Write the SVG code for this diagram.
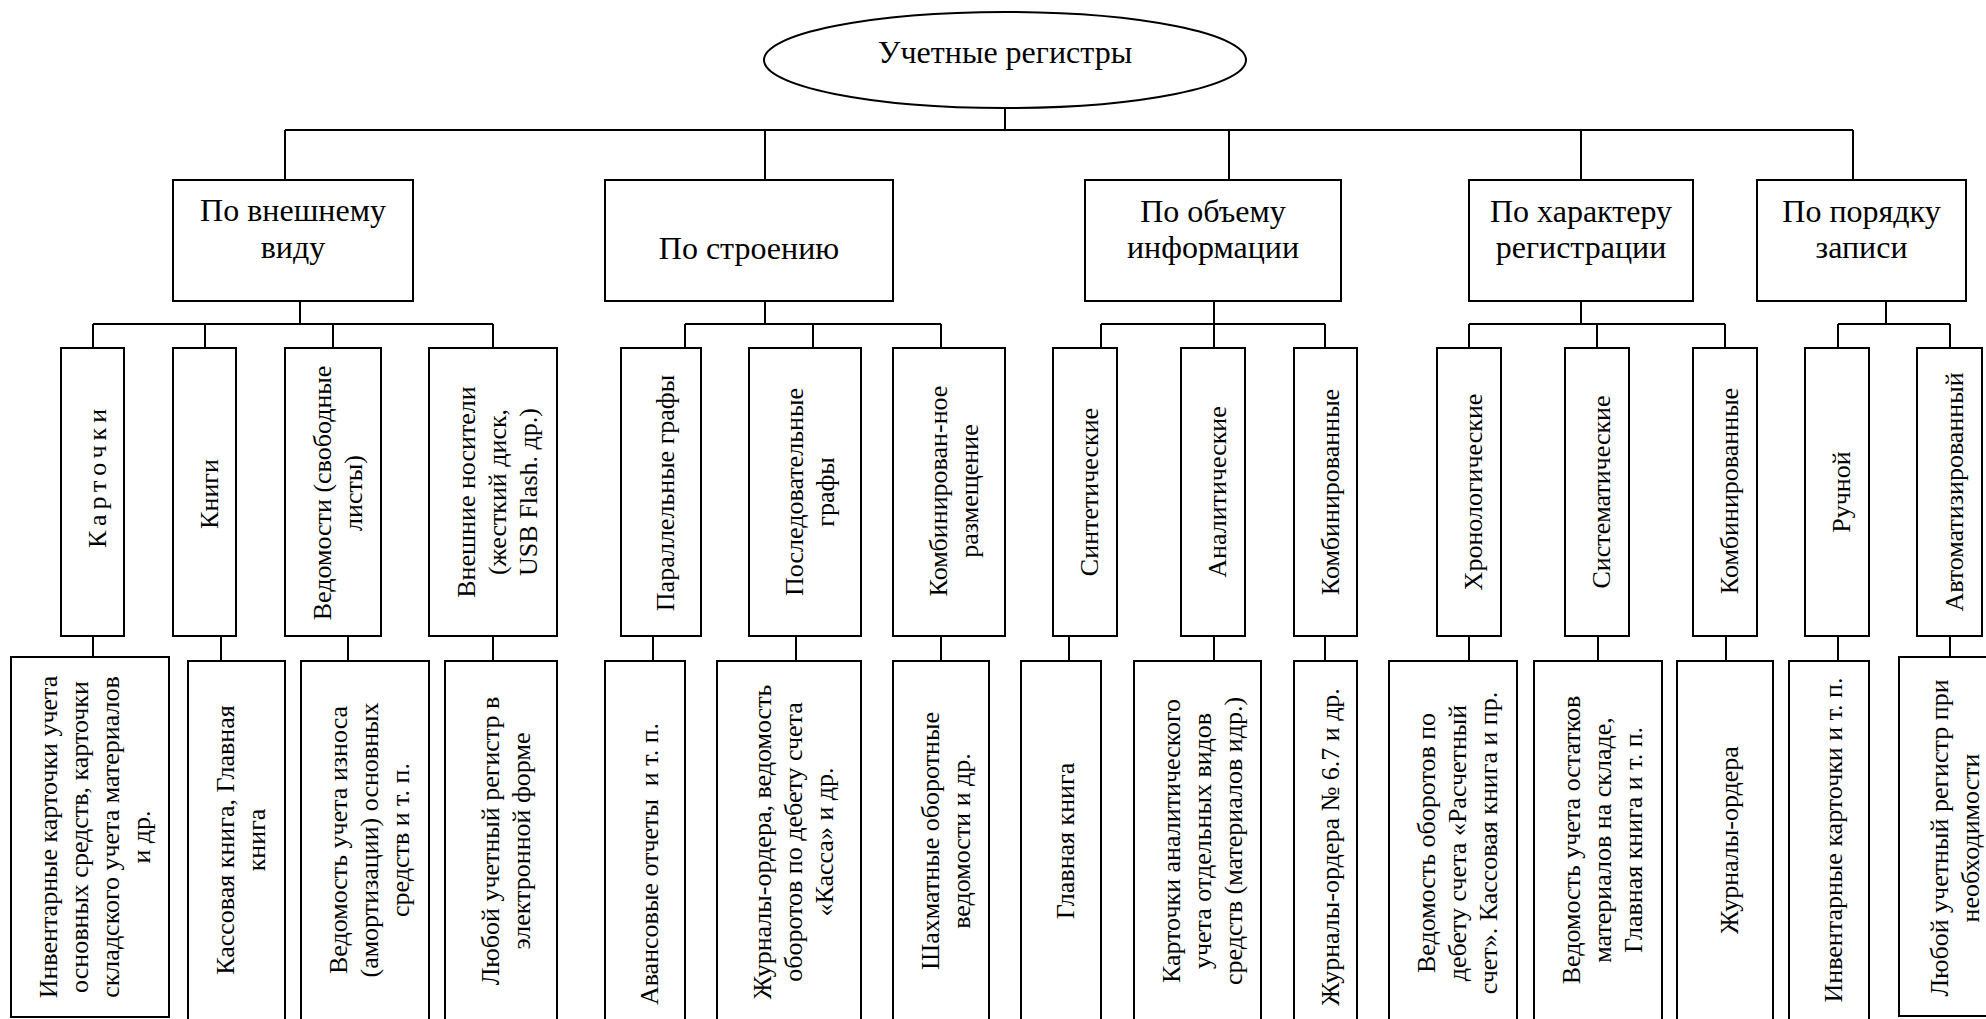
<svg xmlns="http://www.w3.org/2000/svg" width="1986" height="1019" viewBox="0 0 1986 1019">
<style>
.bg{fill:#fff}
.nd{fill:#fff;stroke:#000;stroke-width:2}
.cn{fill:none;stroke:#000;stroke-width:2}
.t1{font-family:"Liberation Serif","Times New Roman",serif;font-size:32px;fill:#000;text-anchor:middle}
.t2{font-family:"Liberation Serif","Times New Roman",serif;font-size:26px;fill:#000;text-anchor:middle}
.sp{letter-spacing:5px}
</style>
<rect class="bg" x="0" y="0" width="1986" height="1019"/>
<g id="connectors">
<path class="cn" d="M1005 108V130M285 130H1853M285 130V180M765 130V180M1229 130V180M1581 130V180M1853 130V180"/>
<path class="cn" d="M300 301V324M93 324H493M93 324V348M205 324V348M333 324V348M493 324V348"/>
<path class="cn" d="M765 301V324M685 324H941M685 324V348M813 324V348M941 324V348"/>
<path class="cn" d="M1214 301V324M1101 324H1325M1101 324V348M1214 324V348M1325 324V348"/>
<path class="cn" d="M1581 301V324M1469 324H1725M1469 324V348M1597 324V348M1725 324V348"/>
<path class="cn" d="M1886 301V324M1838 324H1950M1838 324V348M1950 324V348"/>
<path class="cn" d="M93 636V657M221 636V661M348 636V661M493 636V661M653 636V661M796 636V661M941 636V661M1069 636V661M1214 636V661M1325 636V661M1469 636V661M1598 636V661M1726 636V661M1838 636V661M1950 636V657"/>
</g>
<g id="root">
<ellipse class="nd" cx="1005" cy="60" rx="241" ry="48"/>
<text class="t1" x="1005" y="63">Учетные регистры</text>
</g>
<g id="l1-vid"><rect class="nd" x="173" y="180" width="240" height="121"/><text class="t1" x="293" y="221">По внешнему<tspan x="293" y="258">виду</tspan></text></g>
<g id="l1-stroenie"><rect class="nd" x="605" y="180" width="288" height="121"/><text class="t1" x="749" y="259">По строению</text></g>
<g id="l1-obem"><rect class="nd" x="1085" y="180" width="256" height="121"/><text class="t1" x="1213" y="222">По объему<tspan x="1213" y="258">информации</tspan></text></g>
<g id="l1-harakter"><rect class="nd" x="1469" y="180" width="224" height="121"/><text class="t1" x="1581" y="222">По характеру<tspan x="1581" y="258">регистрации</tspan></text></g>
<g id="l1-poryadok"><rect class="nd" x="1757" y="180" width="209" height="121"/><text class="t1" x="1861.5" y="222">По порядку<tspan x="1861.5" y="258">записи</tspan></text></g>

<g id="l2-kartochki"><rect class="nd" x="61" y="348" width="63" height="288"/><text class="t2 sp" transform="translate(105.5 476) rotate(-90)">Карточки</text></g>
<g id="l2-knigi"><rect class="nd" x="173" y="348" width="63" height="288"/><text class="t2" transform="translate(217.5 494) rotate(-90)">Книги</text></g>
<g id="l2-vedomosti"><rect class="nd" x="285" y="348" width="96" height="288"/><text class="t2" transform="translate(330.5 493) rotate(-90)"><tspan x="0" y="0">Ведомости (свободные</tspan><tspan x="0" y="31">листы)</tspan></text></g>
<g id="l2-nositeli"><rect class="nd" x="429" y="348" width="128" height="288"/><text class="t2" transform="translate(475 492) rotate(-90)"><tspan x="0" y="0">Внешние носители</tspan><tspan x="0" y="31">(жесткий диск,</tspan><tspan x="0" y="62">USB Flash. др.)</tspan></text></g>
<g id="l2-parallel"><rect class="nd" x="621" y="348" width="80" height="288"/><text class="t2" transform="translate(674 493) rotate(-90)">Параллельные графы</text></g>
<g id="l2-posled"><rect class="nd" x="749" y="348" width="112" height="288"/><text class="t2" transform="translate(802.5 492) rotate(-90)"><tspan x="0" y="0">Последовательные</tspan><tspan x="0" y="31">графы</tspan></text></g>
<g id="l2-kombraz"><rect class="nd" x="893" y="348" width="112" height="288"/><text class="t2" transform="translate(946.5 491) rotate(-90)"><tspan x="0" y="0">Комбинирован-ное</tspan><tspan x="0" y="31">размещение</tspan></text></g>
<g id="l2-sint"><rect class="nd" x="1053" y="348" width="64" height="288"/><text class="t2" transform="translate(1098 492) rotate(-90)">Синтетические</text></g>
<g id="l2-anal"><rect class="nd" x="1181" y="348" width="64" height="288"/><text class="t2" transform="translate(1226 492) rotate(-90)">Аналитические</text></g>
<g id="l2-komb1"><rect class="nd" x="1294" y="348" width="63" height="288"/><text class="t2" transform="translate(1338.5 492) rotate(-90)">Комбинированные</text></g>
<g id="l2-hron"><rect class="nd" x="1437" y="348" width="64" height="288"/><text class="t2" transform="translate(1482 492) rotate(-90)">Хронологические</text></g>
<g id="l2-sist"><rect class="nd" x="1565" y="348" width="64" height="288"/><text class="t2" transform="translate(1610 492) rotate(-90)">Систематические</text></g>
<g id="l2-komb2"><rect class="nd" x="1693" y="348" width="64" height="288"/><text class="t2" transform="translate(1738 491) rotate(-90)">Комбинированные</text></g>
<g id="l2-ruchnoy"><rect class="nd" x="1805" y="348" width="64" height="288"/><text class="t2" transform="translate(1850 492) rotate(-90)">Ручной</text></g>
<g id="l2-avtomat"><rect class="nd" x="1917" y="348" width="65" height="288"/><text class="t2" transform="translate(1962.5 492) rotate(-90)">Автоматизированный</text></g>

<g id="l3-a1"><rect class="nd" x="11" y="657" width="158" height="360"/><text class="t2" transform="translate(56.5 837) rotate(-90)"><tspan x="0" y="0">Инвентарные карточки учета</tspan><tspan x="0" y="31">основных средств, карточки</tspan><tspan x="0" y="62">складского учета материалов</tspan><tspan x="0" y="93">и др.</tspan></text></g>
<g id="l3-a2"><rect class="nd" x="188" y="661" width="97" height="380"/><text class="t2" transform="translate(234 840) rotate(-90)"><tspan x="0" y="0">Кассовая книга, Главная</tspan><tspan x="0" y="31">книга</tspan></text></g>
<g id="l3-a3"><rect class="nd" x="301" y="661" width="128" height="380"/><text class="t2" transform="translate(347 840) rotate(-90)"><tspan x="0" y="0">Ведомость учета износа</tspan><tspan x="0" y="31">(амортизации) основных</tspan><tspan x="0" y="62">средств и т. п.</tspan></text></g>
<g id="l3-a4"><rect class="nd" x="445" y="661" width="112" height="380"/><text class="t2" transform="translate(498.5 841) rotate(-90)"><tspan x="0" y="0">Любой учетный регистр в</tspan><tspan x="0" y="31">электронной форме</tspan></text></g>
<g id="l3-b1"><rect class="nd" x="605" y="661" width="80" height="380"/><text class="t2" transform="translate(658 864) rotate(-90)">Авансовые отчеты &#160;и т. п.</text></g>
<g id="l3-b2"><rect class="nd" x="717" y="661" width="144" height="380"/><text class="t2" transform="translate(771 842) rotate(-90)"><tspan x="0" y="0">Журналы-ордера, ведомость</tspan><tspan x="0" y="31">оборотов по дебету счета</tspan><tspan x="0" y="62">«Касса» и др.</tspan></text></g>
<g id="l3-b3"><rect class="nd" x="893" y="661" width="96" height="380"/><text class="t2" transform="translate(938.5 841) rotate(-90)"><tspan x="0" y="0">Шахматные оборотные</tspan><tspan x="0" y="31">ведомости и др.</tspan></text></g>
<g id="l3-c1"><rect class="nd" x="1021" y="661" width="80" height="380"/><text class="t2" transform="translate(1074 841) rotate(-90)">Главная книга</text></g>
<g id="l3-c2"><rect class="nd" x="1134" y="661" width="127" height="380"/><text class="t2" transform="translate(1179.5 841) rotate(-90)"><tspan x="0" y="0">Карточки аналитического</tspan><tspan x="0" y="31">учета отдельных видов</tspan><tspan x="0" y="62">средств (материалов идр.)</tspan></text></g>
<g id="l3-c3"><rect class="nd" x="1294" y="661" width="63" height="380"/><text class="t2" transform="translate(1338.5 847) rotate(-90)">Журналы-ордера № 6.7 и др.</text></g>
<g id="l3-d1"><rect class="nd" x="1389" y="661" width="128" height="380"/><text class="t2" transform="translate(1435 843) rotate(-90)"><tspan x="0" y="0">Ведомость оборотов по</tspan><tspan x="0" y="31">дебету счета «Расчетный</tspan><tspan x="0" y="62">счет». Кассовая книга и пр.</tspan></text></g>
<g id="l3-d2"><rect class="nd" x="1534" y="661" width="128" height="380"/><text class="t2" transform="translate(1580 840) rotate(-90)"><tspan x="0" y="0">Ведомость учета остатков</tspan><tspan x="0" y="31">материалов на складе,</tspan><tspan x="0" y="62">Главная книга и т. п.</tspan></text></g>
<g id="l3-d3"><rect class="nd" x="1677" y="661" width="96" height="380"/><text class="t2" transform="translate(1738 840) rotate(-90)">Журналы-ордера</text></g>
<g id="l3-e1"><rect class="nd" x="1789" y="661" width="80" height="380"/><text class="t2" transform="translate(1842 840) rotate(-90)">Инвентарные карточки и т. п.</text></g>
<g id="l3-e2"><rect class="nd" x="1899" y="657" width="102" height="359"/><text class="t2" transform="translate(1947.5 838) rotate(-90)"><tspan x="0" y="0">Любой учетный регистр при</tspan><tspan x="0" y="31">необходимости</tspan></text></g>
</svg>
